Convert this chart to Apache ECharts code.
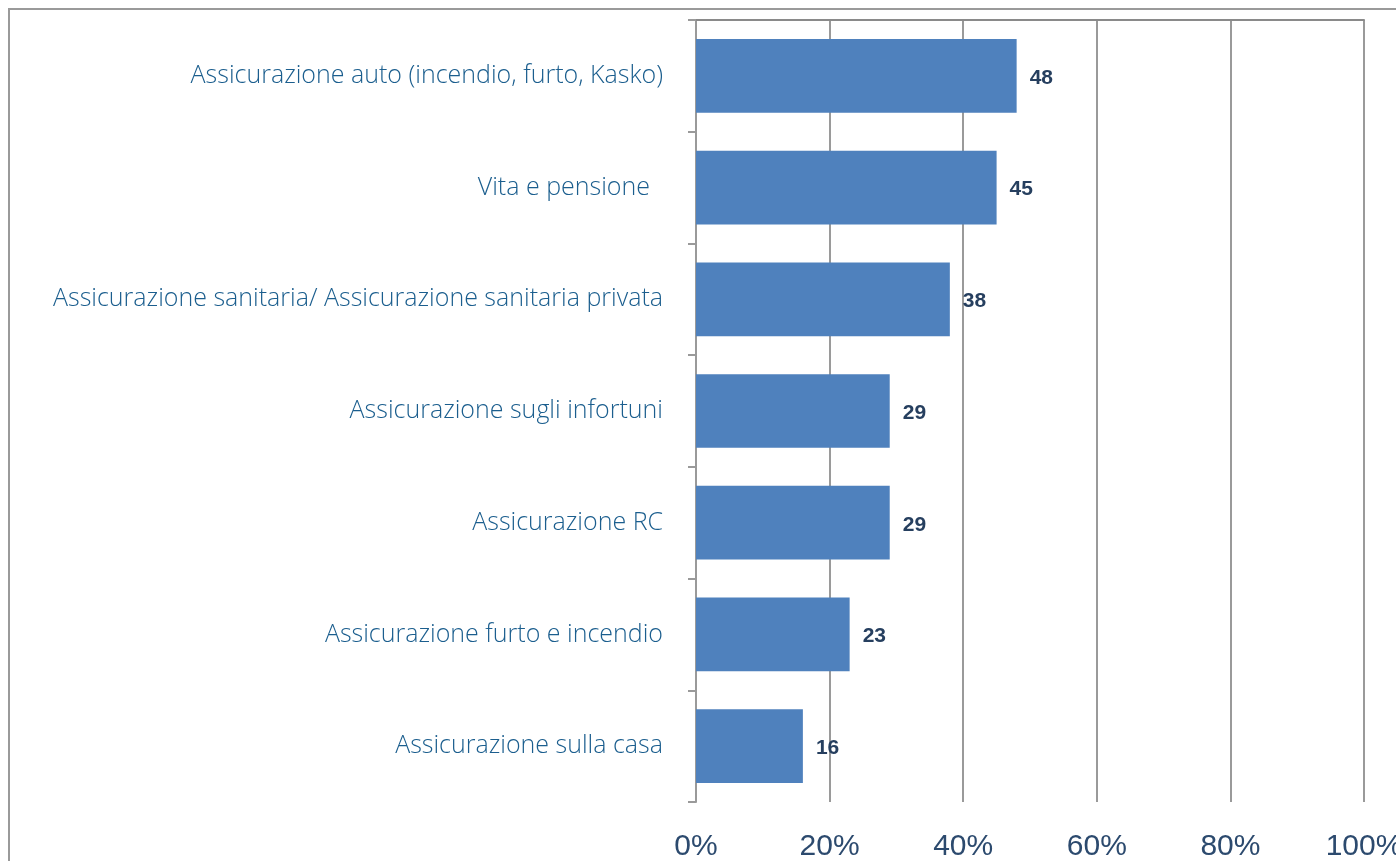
<!DOCTYPE html>
<html>
<head>
<meta charset="utf-8">
<script src="https://cdn.jsdelivr.net/npm/echarts@6/dist/echarts.min.js"></script>
<style>
  html, body { margin: 0; padding: 0; background: #fff; }
  #chart { width: 1396px; height: 861px; }
</style>
</head>
<body>
<div id="chart"></div>
<script>
// categorie (dall'alto verso il basso)
const categories = [
  'Assicurazione auto (incendio, furto, Kasko)',
  'Vita e pensione  ',
  'Assicurazione sanitaria/ Assicurazione sanitaria privata',
  'Assicurazione sugli infortuni',
  'Assicurazione RC',
  'Assicurazione furto e incendio',
  'Assicurazione sulla casa'
]
// percentuali
const values = [48, 45, 38, 29, 29, 23, 16]
const xTicks = [0, 20, 40, 60, 80, 100]

const chart = echarts.init(document.getElementById('chart'))
const option = {
  animation: false,
  graphic: [
    {
      type: 'rect',
      shape: { x: 9, y: 9, width: 1500, height: 1000 },
      style: { fill: 'none', stroke: '#9a9a9a', lineWidth: 2 },
      silent: true
    }
  ],
  grid: { left: 696, right: 32, top: 20, bottom: 59, outerBoundsMode: 'none' },
  xAxis: [
    {
      type: 'value',
      min: xTicks[0],
      max: xTicks[xTicks.length - 1],
      interval: 20,
      position: 'bottom',
      axisLine: { show: false },
      axisTick: { show: false },
      axisLabel: {
        formatter: '{value}%',
        fontFamily: 'Liberation Sans, Arial, sans-serif',
        fontSize: 30,
        color: '#2c4a6e',
        margin: 30
      },
      splitLine: { show: true, lineStyle: { color: '#9a9a9a', width: 2 } }
    },
    {
      // linea superiore
      type: 'value',
      min: 0,
      max: 100,
      position: 'top',
      axisLine: { show: true, lineStyle: { color: '#8a8a8a', width: 2 } },
      axisTick: { show: false },
      axisLabel: { show: false },
      splitLine: { show: false }
    }
  ],
  yAxis: {
    type: 'category',
    data: categories,
    inverse: true,
    axisLine: { show: true, lineStyle: { color: '#9a9a9a', width: 2 } },
    axisTick: { show: true, length: 8, lineStyle: { color: '#9a9a9a', width: 2 } },
    axisLabel: {
      margin: 33,
      fontFamily: 'Open Sans, sans-serif',
      fontWeight: 300,
      fontSize: 25,
      color: '#1b5e8e',
      verticalAlign: 'middle',
      padding: [0, 0, 12, 0]
    }
  },
  series: [
    {
      type: 'bar',
      data: values,
      barWidth: '66%',
      itemStyle: { color: '#4f81bd' },
      label: {
        show: true,
        position: 'right',
        distance: 13,
        fontFamily: 'Liberation Sans, Arial, sans-serif',
        fontWeight: 'bold',
        fontSize: 21,
        color: '#263f5f',
        offset: [0, 2]
      }
    }
  ]
}
chart.setOption(option)
</script>
</body>
</html>
